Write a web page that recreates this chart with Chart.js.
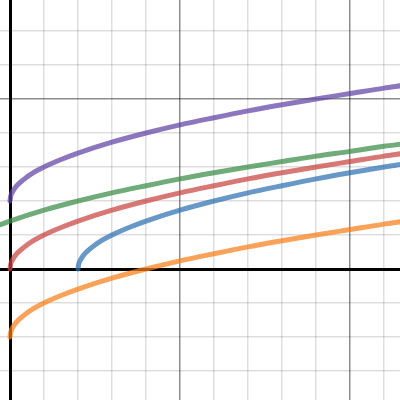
<!DOCTYPE html>
<html>
<head>
<meta charset="utf-8">
<script src="https://cdn.jsdelivr.net/npm/chart.js@4"></script>
<style>
html,body{margin:0;padding:0;background:#fff;}
#wrap{width:400px;height:400px;}
</style>
</head>
<body>
<div id="wrap"><canvas id="c" width="400" height="400"></canvas></div>
<script>
// x offsets from each curve's starting point, and the heights
const offsets = [0, 0.02, 0.08, 0.2, 0.4, 0.7, 1, 1.5, 2, 3, 4, 5, 6, 7, 8, 9, 10, 11, 11.5];
const redY    = [0, 0.14, 0.28, 0.45, 0.63, 0.84, 1, 1.22, 1.41, 1.73, 2, 2.24, 2.45, 2.65, 2.83, 3, 3.16, 3.32, 3.39];
const purpleY = [2, 2.14, 2.28, 2.45, 2.63, 2.84, 3, 3.22, 3.41, 3.73, 4, 4.24, 4.45, 4.65, 4.83, 5, 5.16, 5.32, 5.39];
const orangeY = [-2, -1.86, -1.72, -1.55, -1.37, -1.16, -1, -0.78, -0.59, -0.27, 0, 0.24, 0.45, 0.65, 0.83, 1, 1.16, 1.32, 1.39];
const blueX   = [2, 2.02, 2.08, 2.2, 2.4, 2.7, 3, 3.5, 4, 5, 6, 7, 8, 9, 10, 11, 11.5];
const blueY   = [0, 0.14, 0.28, 0.45, 0.63, 0.84, 1, 1.22, 1.41, 1.73, 2, 2.24, 2.45, 2.65, 2.83, 3, 3.08];
const greenX  = [-0.3, 0, 1, 2, 3, 4, 5, 6, 7, 8, 9, 10, 11, 11.5];
const greenY  = [1.30, 1.41, 1.73, 2, 2.24, 2.45, 2.65, 2.83, 3, 3.16, 3.32, 3.46, 3.61, 3.67];

const xMin = -10/34, xMax = 390/34, yMin = -131/34, yMax = 269/34;

function pts(xs, ys){ return xs.map((x,i)=>({x:x, y:ys[i]})); }

function mk(label, data, color){
  return {label, data, borderColor: color, backgroundColor: color, borderWidth: 5,
    pointRadius: 0, fill: false, cubicInterpolationMode: 'monotone',
    borderCapStyle: 'round', borderJoinStyle: 'round'};
}

function gridColor(ctx){
  const v = ctx.tick && ctx.tick.value;
  if (v === undefined) return 'rgba(0,0,0,0)';
  const r = Math.round(v);
  if (r === 0) return '#000000';
  if (r % 5 === 0) return 'rgba(0,0,0,0.45)';
  return 'rgba(0,0,0,0.13)';
}
function gridWidth(ctx){
  const v = ctx.tick && ctx.tick.value;
  if (v === undefined) return 1;
  const r = Math.round(v);
  if (r === 0) return 3;
  return 1.5;
}
function intTicks(scale){
  const t = [];
  for (let v = Math.ceil(scale.min); v <= Math.floor(scale.max); v++) t.push({value: v});
  scale.ticks = t;
}

new Chart(document.getElementById('c'), {
  type: 'line',
  data: {
    datasets: [
      mk('green', pts(greenX, greenY), 'rgba(56,140,70,0.72)'),
      mk('purple', pts(offsets, purpleY), 'rgba(96,66,166,0.72)'),
      mk('orange', pts(offsets, orangeY), 'rgba(250,126,25,0.72)'),
      mk('red', pts(offsets, redY), 'rgba(199,68,64,0.72)'),
      mk('blue', pts(blueX, blueY), 'rgba(45,112,179,0.72)')
    ]
  },
  options: {
    responsive: false,
    animation: false,
    layout: {padding: 0},
    plugins: {legend: {display: false}, tooltip: {enabled: false}},
    scales: {
      x: {type: 'linear', min: xMin, max: xMax, afterBuildTicks: intTicks,
          ticks: {display: false},
          border: {display: false},
          grid: {drawTicks: false, color: gridColor, lineWidth: gridWidth}},
      y: {type: 'linear', min: yMin, max: yMax, afterBuildTicks: intTicks,
          ticks: {display: false},
          border: {display: false},
          grid: {drawTicks: false, color: gridColor, lineWidth: gridWidth}}
    }
  }
});
</script>
</body>
</html>
